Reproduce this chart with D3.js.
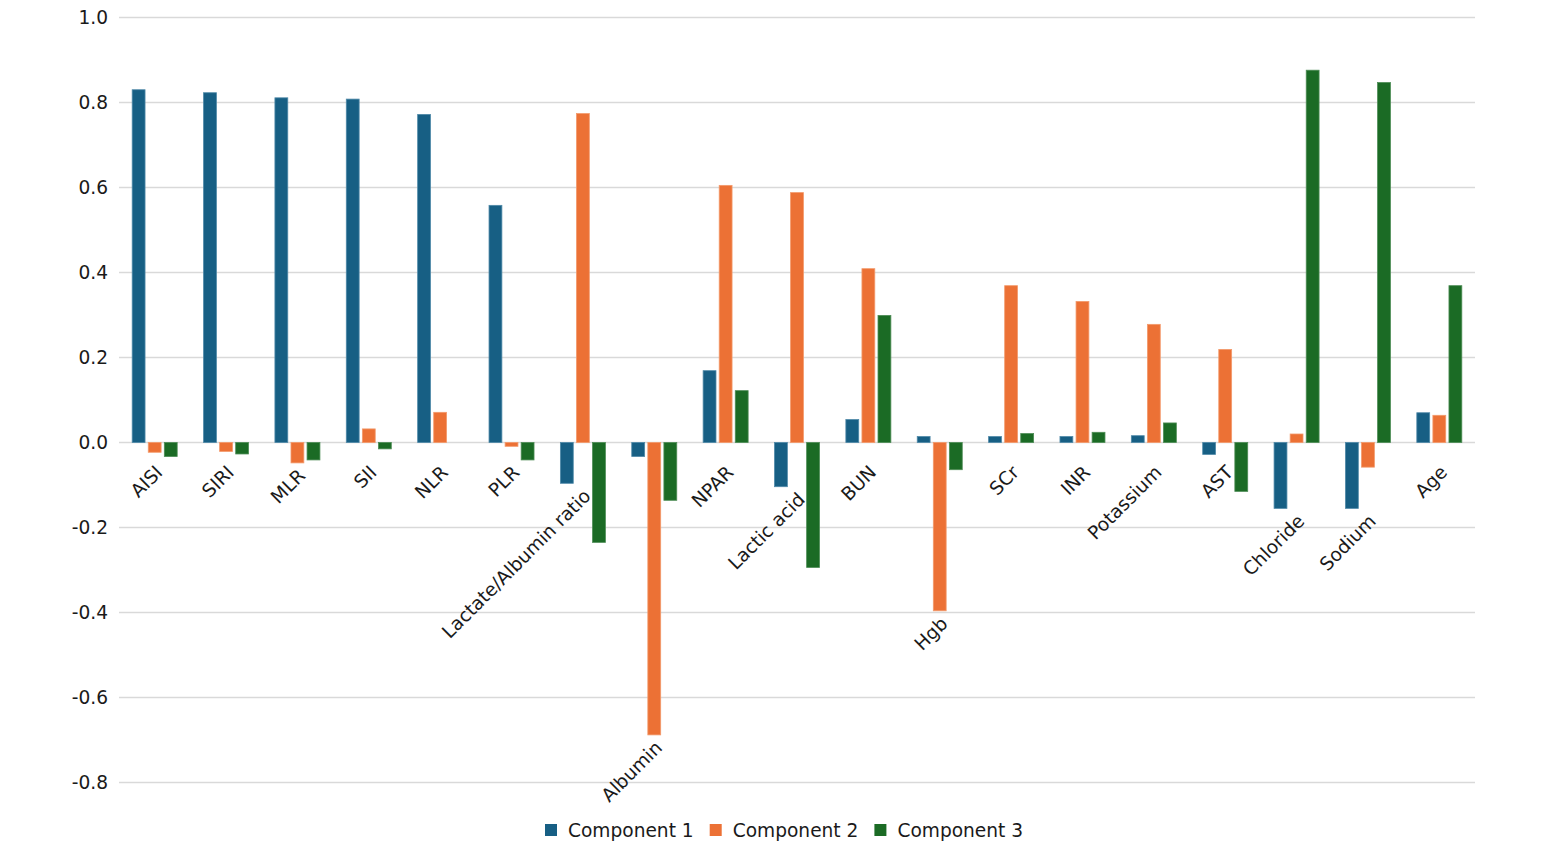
<!doctype html>
<html lang="en">
<head>
<meta charset="UTF-8">
<title>Component loadings</title>
<script src="https://cdn.jsdelivr.net/npm/d3@7"></script>
<style>
  body { margin: 0; background: #fff; }
  text { font-family: "DejaVu Sans", Verdana, sans-serif; fill: #1a1a1a; }
</style>
</head>
<body>
<script>
  // data
  var categories = ['AISI','SIRI','MLR','SII','NLR','PLR','Lactate/Albumin ratio','Albumin','NPAR',
    'Lactic acid','BUN','Hgb','SCr','INR','Potassium','AST','Chloride','Sodium','Age'];
  var seriesNames = ['Component 1','Component 2','Component 3'];
  var comp1 = [0.830, 0.823, 0.811, 0.808, 0.772, 0.558, -0.096, -0.033, 0.169,
    -0.104, 0.054, 0.014, 0.014, 0.014, 0.016, -0.028, -0.155, -0.155, 0.070];
  var comp2 = [-0.023, -0.021, -0.048, 0.032, 0.071, -0.009, 0.774, -0.688, 0.605,
    0.588, 0.409, -0.396, 0.369, 0.332, 0.278, 0.219, 0.020, -0.058, 0.064];
  var comp3 = [-0.033, -0.027, -0.041, -0.015, 0.000, -0.041, -0.235, -0.136, 0.122,
    -0.294, 0.299, -0.064, 0.021, 0.024, 0.046, -0.115, 0.876, 0.847, 0.369];
  var yTicks = [-0.8, -0.6, -0.4, -0.2, 0.0, 0.2, 0.4, 0.6, 0.8, 1.0];
  var colors = ['#175f84', '#ec7135', '#1b6b25'];
  var strokes = ['#4f89a8', '#f39a6c', '#4d8c55'];

  var width = 1550, height = 850;
  var margin = {left: 119, right: 75, top: 17.5, bottom: 67.5};
  var fontSize = '18.6px';

  var rows = categories.map(function(c, i) {
    return {cat: c, values: [comp1[i], comp2[i], comp3[i]]};
  });

  var svg = d3.select('body').append('svg')
      .attr('width', width)
      .attr('height', height);

  var x0 = d3.scaleBand()
      .domain(categories)
      .range([margin.left, width - margin.right]);

  var x1 = d3.scaleBand()
      .domain([0, 1, 2])
      .range([0, 45])
      .paddingInner(0.2);

  var y = d3.scaleLinear()
      .domain([-0.8, 1.0])
      .range([height - margin.bottom, margin.top]);

  // grid lines
  svg.append('g')
    .selectAll('line')
    .data(yTicks)
    .enter().append('line')
      .attr('x1', margin.left)
      .attr('x2', width - margin.right)
      .attr('y1', function(d) { return y(d); })
      .attr('y2', function(d) { return y(d); })
      .attr('stroke', '#d9d9d9')
      .attr('stroke-width', 1.5);

  // y axis labels (plain hyphen for negatives, like the original)
  var fmt = d3.format('.1f');
  var yAxis = d3.axisLeft(y)
      .tickValues(yTicks)
      .tickFormat(function(d) { return fmt(d).replace('\u2212', '-'); })
      .tickSize(0)
      .tickPadding(11);
  var yg = svg.append('g')
      .attr('transform', 'translate(' + margin.left + ',0)')
      .call(yAxis);
  yg.select('.domain').remove();
  yg.selectAll('text')
      .style('font-size', fontSize)
      .style('font-family', '"DejaVu Sans", Verdana, sans-serif')
      .attr('fill', '#1a1a1a');

  // bars
  var groups = svg.append('g')
    .selectAll('g')
    .data(rows)
    .enter().append('g')
      .attr('transform', function(d) {
        return 'translate(' + (x0(d.cat) + x0.bandwidth() / 2 - 22.5) + ',0)';
      });

  groups.selectAll('rect')
    .data(function(d) { return d.values; })
    .enter().append('rect')
      .attr('x', function(d, i) { return x1(i); })
      .attr('width', x1.bandwidth())
      .attr('y', function(d) { return y(Math.max(0, d)); })
      .attr('height', function(d) { return Math.abs(y(d) - y(0)); })
      .attr('fill', function(d, i) { return colors[i]; })
      .attr('stroke', function(d, i) { return d === 0 ? 'none' : strokes[i]; })
      .attr('stroke-width', 0.8);

  // category labels: tucked below the lowest of the first two bars
  svg.append('g')
    .selectAll('text')
    .data(rows)
    .enter().append('text')
      .attr('transform', function(d) {
        var low = Math.min(0, d.values[0], d.values[1]);
        var ly = Math.max(y(0) + 31, y(low) + 14);
        var lx = x0(d.cat) + x0.bandwidth() / 2 + 9;
        return 'translate(' + lx + ',' + ly + ') rotate(-45)';
      })
      .attr('text-anchor', 'end')
      .style('font-size', fontSize)
      .text(function(d) { return d.cat; });

  // legend
  var legend = svg.append('g')
      .attr('transform', 'translate(545,830)');
  var lx = 0;
  seriesNames.forEach(function(name, i) {
    legend.append('rect')
        .attr('x', lx)
        .attr('y', -6)
        .attr('width', 12)
        .attr('height', 12)
        .attr('fill', colors[i]);
    var t = legend.append('text')
        .attr('x', lx + 23)
        .attr('y', 0)
        .attr('dy', '0.35em')
        .style('font-size', fontSize)
        .text(name);
    lx += 23 + t.node().getComputedTextLength() + 16;
  });
</script>
</body>
</html>
